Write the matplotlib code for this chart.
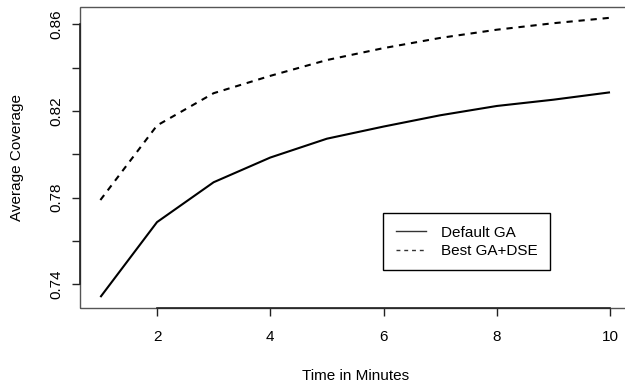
import matplotlib
matplotlib.use("Agg")
import matplotlib.pyplot as plt
from matplotlib.lines import Line2D
from matplotlib.patches import Rectangle

minutes = [1, 2, 3, 4, 5, 6, 7, 8, 9, 10]
default_ga = [0.7341, 0.7687, 0.7871, 0.7985, 0.8072, 0.8128, 0.8180, 0.8223, 0.8252, 0.8286]
best_ga_dse = [0.7789, 0.8133, 0.8282, 0.8362, 0.8435, 0.8490, 0.8537, 0.8575, 0.8605, 0.8630]
series_names = ["Default GA", "Best GA+DSE"]
x_ticks = [2, 4, 6, 8, 10]
y_ticks = [0.74, 0.76, 0.78, 0.80, 0.82, 0.84, 0.86]
y_labels = ["0.74", "", "0.78", "", "0.82", "", "0.86"]

plt.rcParams['font.family'] = ['Liberation Sans', 'DejaVu Sans']
plt.rcParams['font.size'] = 11

fig = plt.figure(figsize=(6.25, 3.86), dpi=100)
ax = fig.add_axes([80/625, 78/386, 550.4/625, 301.3/386])

ax.plot(minutes, default_ga, color='black', lw=1.5, solid_capstyle='butt')
ax.plot(minutes, best_ga_dse, color='black', lw=1.5, dashes=(3.0, 2.8), dash_capstyle='butt')

ax.set_xlim(0.64, 10.36)
ax.set_ylim(0.72906, 0.86812)

for s in ax.spines.values():
    s.set_visible(False)
ax.add_patch(Rectangle((0, 0), 1, 1, transform=ax.transAxes, fill=False,
                       edgecolor='#555555', lw=1.0, clip_on=False, zorder=5))
ax.spines['bottom'].set_visible(True)
ax.spines['left'].set_visible(True)
ax.spines['bottom'].set_bounds(x_ticks[0], x_ticks[-1])
ax.spines['left'].set_bounds(y_ticks[0], y_ticks[-1])
ax.spines['bottom'].set_color('#222222')
ax.spines['left'].set_color('#222222')
ax.spines['bottom'].set_linewidth(1.2)
ax.spines['left'].set_linewidth(1.2)
ax.spines['bottom'].set_zorder(6)
ax.spines['left'].set_zorder(6)

ax.set_xticks(x_ticks)
ax.set_xticklabels([str(t) for t in x_ticks])
ax.set_yticks(y_ticks)
ax.set_yticklabels(y_labels, rotation=90, va='center')
ax.tick_params(axis='both', direction='out', length=6, width=1, color='#222222',
               labelsize=11, pad=10)
ax.tick_params(axis='y', pad=6)

ax.set_xlabel("Time in Minutes", fontsize=11, labelpad=18)
ax.set_ylabel("Average Coverage", fontsize=11, labelpad=18)

handles = [Line2D([], [], color='#333333', lw=1.0),
           Line2D([], [], color='#333333', lw=1.0, dashes=(2.8, 2.8))]
leg = fig.legend(handles, series_names, loc='upper left',
                 bbox_to_anchor=(383.3/625, 1 - 213.3/386), borderaxespad=0,
                 fancybox=False, edgecolor='black', framealpha=1,
                 handlelength=2.0, handletextpad=1.0, borderpad=0.8,
                 labelspacing=0.3, fontsize=11)
leg.get_frame().set_linewidth(1.0)

fig.savefig("out.png", dpi=100)
